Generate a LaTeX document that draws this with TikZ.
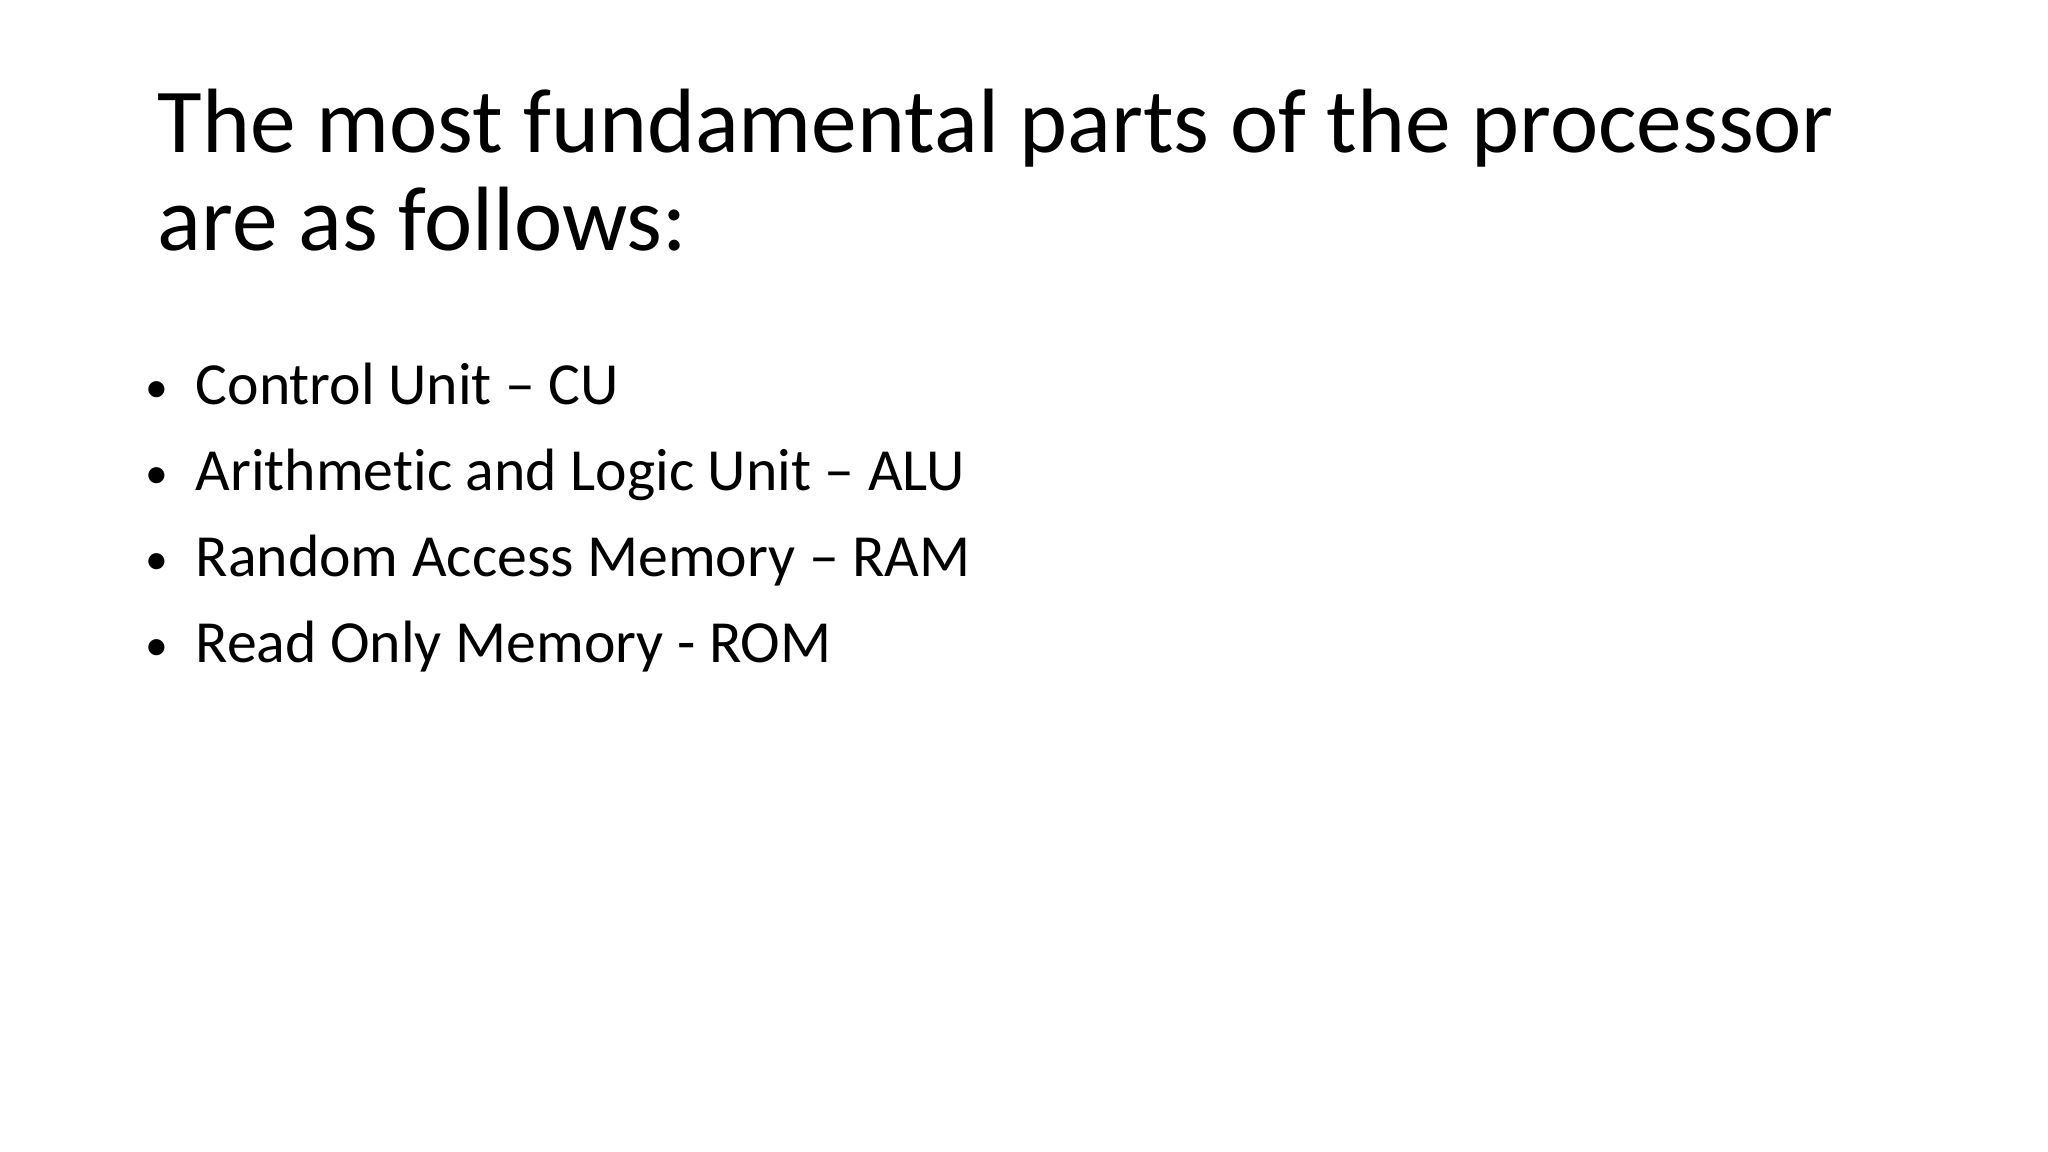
\documentclass[tikz,border=0pt]{standalone}
\usepackage{fontspec}
\setmainfont{Carlito}[Ligatures=NoCommon]
\begin{document}
\begin{tikzpicture}[x=1cm,y=-1cm,
  title/.style={anchor=base west,inner sep=0pt,font=\fontsize{26}{26}\selectfont},
  item/.style={anchor=base west,inner sep=0pt,font=\fontsize{17}{20}\selectfont},
  bul/.style={anchor=base west,inner sep=0pt,font=\fontsize{13}{20}\selectfont}]
\useasboundingbox (0,0) rectangle (20.48,11.52);
\node[title] (t1) at (1.57,1.53) {The most fundamental parts of the processor};
\node[title] (t2) at (1.57,2.51) {are as follows:};
\foreach \y/\t [count=\i] in {4.05/Control Unit – CU,4.91/Arithmetic and Logic Unit – ALU,5.77/Random Access Memory – RAM,6.63/Read Only Memory - ROM}{
  \node[bul] (b\i) at (1.45,\y-0.02) {•};
  \node[item] (i\i) at (1.95,\y) {\t};
}
\end{tikzpicture}
\end{document}
